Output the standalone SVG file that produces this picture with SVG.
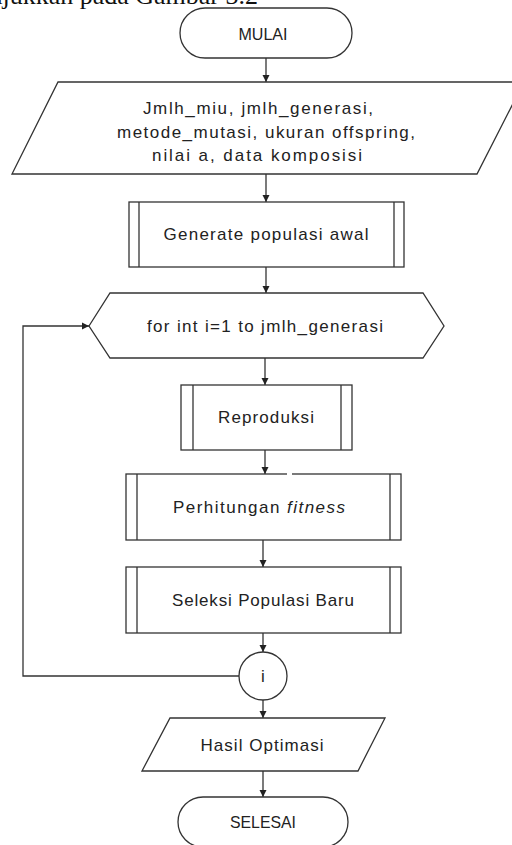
<svg xmlns="http://www.w3.org/2000/svg" width="512" height="845" viewBox="0 0 512 845">
<style>
.s{fill:#fff;stroke:#333;stroke-width:1.3}
.l{fill:none;stroke:#333;stroke-width:1.3}
.t{font-family:"Liberation Sans",Arial,sans-serif;font-size:17px;fill:#222;text-anchor:middle}
.cap{font-family:"Liberation Serif","Times New Roman",serif;font-size:26px;fill:#111}
</style>
<defs>
<marker id="ah" markerWidth="8" markerHeight="8" refX="7" refY="4" orient="auto" markerUnits="userSpaceOnUse">
<path d="M0,0.5 L7,4 L0,7.5 Z" fill="#222"/>
</marker>
</defs>
<rect width="512" height="845" fill="#fff"/>
<text class="cap" x="258" y="4" text-anchor="end">ditunjukkan pada Gambar 3.2</text>

<g id="connectors">
<line class="l" x1="266" y1="58" x2="266" y2="82" marker-end="url(#ah)"/>
<line class="l" x1="266" y1="174" x2="266" y2="202" marker-end="url(#ah)"/>
<line class="l" x1="266" y1="267" x2="266" y2="293" marker-end="url(#ah)"/>
<line class="l" x1="265" y1="358" x2="265" y2="385" marker-end="url(#ah)"/>
<line class="l" x1="265" y1="450" x2="265" y2="474" marker-end="url(#ah)"/>
<line class="l" x1="263" y1="540" x2="263" y2="567" marker-end="url(#ah)"/>
<line class="l" x1="263" y1="633" x2="263" y2="652" marker-end="url(#ah)"/>
<line class="l" x1="263" y1="700" x2="263" y2="718" marker-end="url(#ah)"/>
<line class="l" x1="263" y1="771" x2="263" y2="797" marker-end="url(#ah)"/>
<polyline class="l" points="239,676 23,676 23,326 89,326" marker-end="url(#ah)"/>
</g>

<g id="mulai">
<rect class="s" x="180" y="8" width="172" height="50" rx="25"/>
<text class="t" x="263" y="40" textLength="49" lengthAdjust="spacingAndGlyphs">MULAI</text>
</g>

<g id="input">
<polygon class="s" points="58,82 524,82 477,174 12,174"/>
<text class="t" x="258" y="114" textLength="230" lengthAdjust="spacing">Jmlh_miu, jmlh_generasi,</text>
<text class="t" x="266" y="138" textLength="298" lengthAdjust="spacing">metode_mutasi, ukuran offspring,</text>
<text class="t" x="257" y="161" textLength="210" lengthAdjust="spacing">nilai a, data komposisi</text>
</g>

<g id="generate">
<rect class="s" x="129" y="202" width="275" height="65"/>
<line class="l" x1="139" y1="202" x2="139" y2="267"/>
<line class="l" x1="394" y1="202" x2="394" y2="267"/>
<text class="t" x="266" y="240" textLength="205" lengthAdjust="spacing">Generate populasi awal</text>
</g>

<g id="loop">
<polygon class="s" points="89,326 110,293 423,293 444,326 423,358 110,358"/>
<text class="t" x="265" y="332" textLength="236" lengthAdjust="spacing">for int i=1 to jmlh_generasi</text>
</g>

<g id="reproduksi">
<rect class="s" x="181" y="385" width="171" height="65"/>
<line class="l" x1="193" y1="385" x2="193" y2="450"/>
<line class="l" x1="341" y1="385" x2="341" y2="450"/>
<text class="t" x="266" y="423" textLength="96" lengthAdjust="spacing">Reproduksi</text>
</g>

<g id="fitness">
<rect class="s" x="126" y="474" width="275" height="66"/>
<line class="l" x1="137" y1="474" x2="137" y2="540"/>
<line class="l" x1="390" y1="474" x2="390" y2="540"/>
<line x1="287" y1="474" x2="292" y2="474" stroke="#fff" stroke-width="2"/>
<text class="t" x="259" y="513" textLength="172" lengthAdjust="spacing">Perhitungan <tspan font-style="italic">fitness</tspan></text>
</g>

<g id="seleksi">
<rect class="s" x="126" y="567" width="275" height="66"/>
<line class="l" x1="137" y1="567" x2="137" y2="633"/>
<line class="l" x1="390" y1="567" x2="390" y2="633"/>
<text class="t" x="263" y="606" textLength="182" lengthAdjust="spacing">Seleksi Populasi Baru</text>
</g>

<g id="connector-i">
<circle class="s" cx="263" cy="676" r="24"/>
<text class="t" x="263" y="682">i</text>
</g>

<g id="hasil">
<polygon class="s" points="170,718 385,718 358,771 142,771"/>
<text class="t" x="262" y="751" textLength="123" lengthAdjust="spacing">Hasil Optimasi</text>
</g>

<g id="selesai">
<rect class="s" x="178" y="797" width="170" height="50" rx="25"/>
<text class="t" x="263" y="828" textLength="66" lengthAdjust="spacingAndGlyphs">SELESAI</text>
</g>
</svg>
